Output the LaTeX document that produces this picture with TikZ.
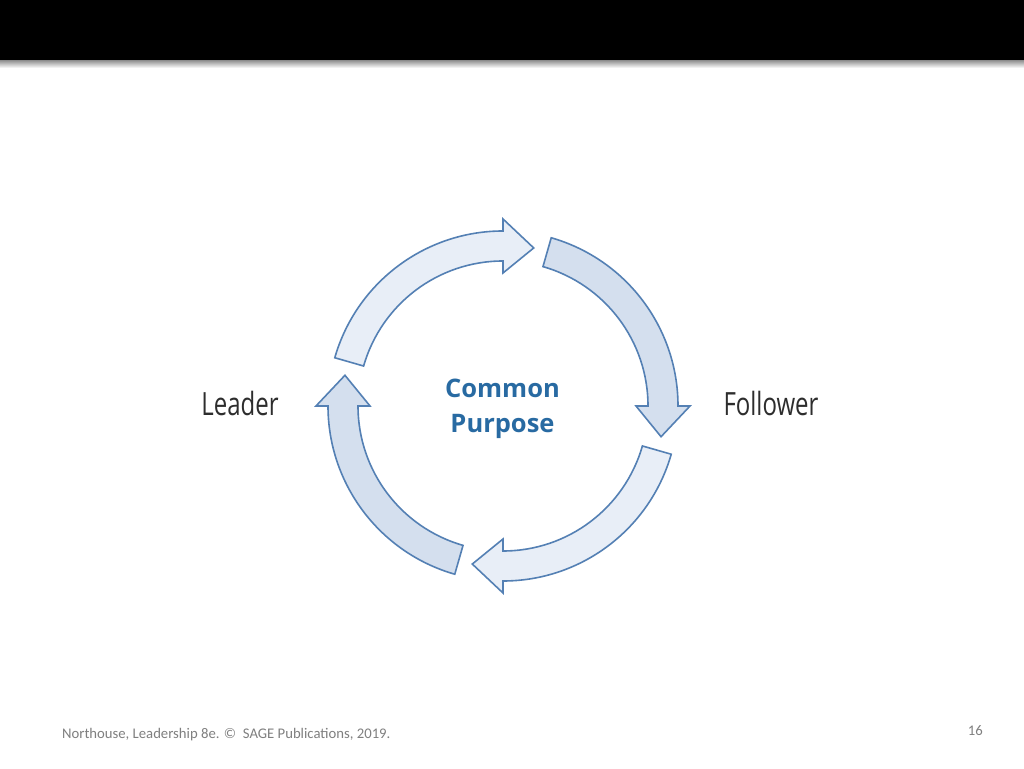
\documentclass[tikz,border=0pt]{standalone}
\usepackage{fontspec}
\usepackage{graphicx}
\setmainfont{Open Sans}
\newfontfamily\footfont{Carlito}
\definecolor{arrowline}{RGB}{84,128,180}
\definecolor{lightfill}{RGB}{232,238,247}
\definecolor{darkfill}{RGB}{212,223,238}
\definecolor{cptext}{RGB}{40,106,162}
\definecolor{labeltext}{RGB}{45,45,45}
\definecolor{foottext}{RGB}{127,127,127}
\begin{document}
\begin{tikzpicture}[x=1pt,y=1pt,
  cyclearrow/.style={draw=arrowline, line width=1.6pt, line join=miter},
  sidelabel/.style={font=\fontsize{32}{32}\selectfont, text=labeltext, anchor=base, inner sep=0pt},
  centerlabel/.style={font=\bfseries\fontsize{25.5}{35}\selectfont, text=cptext, align=center, inner sep=0pt},
  footlabel/.style={font=\footfont\fontsize{14.7}{14.7}\selectfont, text=foottext, inner sep=0pt}]
\useasboundingbox (0,0) rectangle (1024,768);
\fill[white] (0,0) rectangle (1024,768);
\shade[top color=black!45, bottom color=white] (0,700) rectangle (1024,708);
\fill[black] (0,708) rectangle (1024,768);
\begin{scope}[shift={(503,362)}]
\foreach \t/\col in {164/lightfill, 74/darkfill, -16/lightfill, -106/darkfill}{
  \pgfmathsetmacro\b{\t-74}
  \pgfmathsetmacro\p{\t-85}
  \draw[cyclearrow, fill=\col] (\t:175) arc[start angle=\t, end angle=\b, radius=175]
    -- (\b:187) -- (\p:161) -- (\b:133) -- (\b:145)
    arc[start angle=\b, end angle=\t, radius=145] -- cycle;
}
\end{scope}
\node[sidelabel] (leader) at (240,352) {\scalebox{0.75}[1]{Leader}};
\node[sidelabel] (follower) at (771,352) {\scalebox{0.75}[1]{Follower}};
\node[centerlabel] (purpose) at (502.5,359) {Common\\Purpose};
\node[footlabel, anchor=base west] (credit) at (62,29.5) {Northouse, Leadership 8e. ©\ \ SAGE Publications, 2019.};
\node[footlabel, anchor=base east] (pagenum) at (983,33) {16};
\end{tikzpicture}
\end{document}
